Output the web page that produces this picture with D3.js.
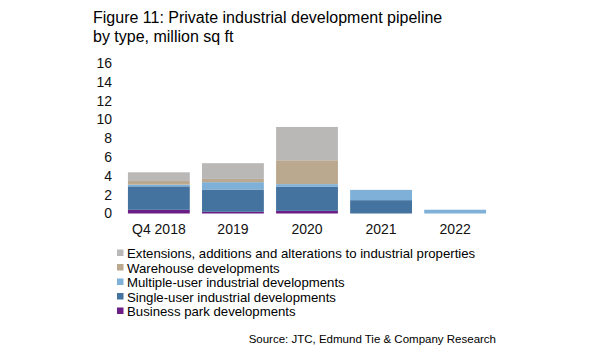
<!DOCTYPE html>
<html>
<head>
<meta charset="UTF-8">
<title>Industrial pipeline</title>
<script src="https://d3js.org/d3.v7.min.js"></script>
<style>
  body { margin: 0; background: #fff; font-family: "Liberation Sans", Arial, sans-serif; color: #111; }
</style>
</head>
<body>
<div id="chart"></div>
<script>
const categories = ["Q4 2018", "2019", "2020", "2021", "2022"];
const seriesNames = [
  "Business park developments",
  "Single-user industrial developments",
  "Multiple-user industrial developments",
  "Warehouse developments",
  "Extensions, additions and alterations to industrial properties"
];
const businessPark = [0.39, 0.18, 0.28, 0, 0];
const singleUser   = [2.5, 2.37, 2.55, 1.42, 0];
const multipleUser = [0.18, 0.78, 0.29, 1.09, 0.4];
const warehouse    = [0.39, 0.35, 2.54, 0, 0];
const extensions   = [0.92, 1.67, 3.54, 0, 0];
const yTicks = [0, 2, 4, 6, 8, 10, 12, 14, 16];
const colors = ["#6b1f86", "#44739f", "#7fb0d8", "#bba98f", "#bab7b7"];

const width = 599, height = 362;
const svg = d3.select("#chart").append("svg")
  .attr("width", width).attr("height", height);

const table = categories.map((c, i) => ({
  cat: c,
  s0: businessPark[i], s1: singleUser[i], s2: multipleUser[i], s3: warehouse[i], s4: extensions[i]
}));
const keys = ["s0", "s1", "s2", "s3", "s4"];
const stacked = d3.stack().keys(keys)(table);

const x = d3.scaleBand().domain(categories).range([122, 492]).paddingInner(0.165).paddingOuter(0.08);
const y = d3.scaleLinear().domain([0, 16]).range([213.5, 63]);

// title
svg.append("text").attr("x", 93).attr("y", 23).attr("font-size", 16).text("Figure 11: Private industrial development pipeline");
svg.append("text").attr("x", 93).attr("y", 42).attr("font-size", 16).text("by type, million sq ft");

// bars
svg.selectAll(".layer").data(stacked).enter().append("g")
  .attr("fill", (d, i) => colors[i])
  .selectAll("rect").data(d => d).enter().append("rect")
  .attr("x", d => x(d.data.cat))
  .attr("y", d => y(d[1]))
  .attr("width", x.bandwidth())
  .attr("height", d => y(d[0]) - y(d[1]));

// y axis
const yAxis = svg.append("g").attr("transform", "translate(112,0)")
  .call(d3.axisLeft(y).tickValues(yTicks).tickSize(0).tickPadding(0));
yAxis.select(".domain").remove();
yAxis.selectAll("text").attr("font-size", 14).attr("font-family", "Liberation Sans, Arial, sans-serif").attr("fill", "#111");

// x axis
const xAxis = svg.append("g").attr("transform", "translate(0,224)")
  .call(d3.axisBottom(x).tickSize(0).tickPadding(0));
xAxis.select(".domain").remove();
xAxis.selectAll("text").attr("font-size", 14).attr("font-family", "Liberation Sans, Arial, sans-serif").attr("fill", "#111");

// legend (top item is last series)
const legendOrder = [4, 3, 2, 1, 0];
const lg = svg.append("g");
legendOrder.forEach((si, k) => {
  const cy = 253 + k * 14.5;
  lg.append("rect").attr("x", 117).attr("y", cy - 3.5).attr("width", 6.5).attr("height", 6.5).attr("fill", colors[si]);
  lg.append("text").attr("x", 127).attr("y", cy + 5).attr("font-size", 13.2).text(seriesNames[si]);
});

// source
svg.append("text").attr("x", 496).attr("y", 343).attr("text-anchor", "end").attr("font-size", 11.5)
  .text("Source: JTC, Edmund Tie & Company Research");
</script>
</body>
</html>
